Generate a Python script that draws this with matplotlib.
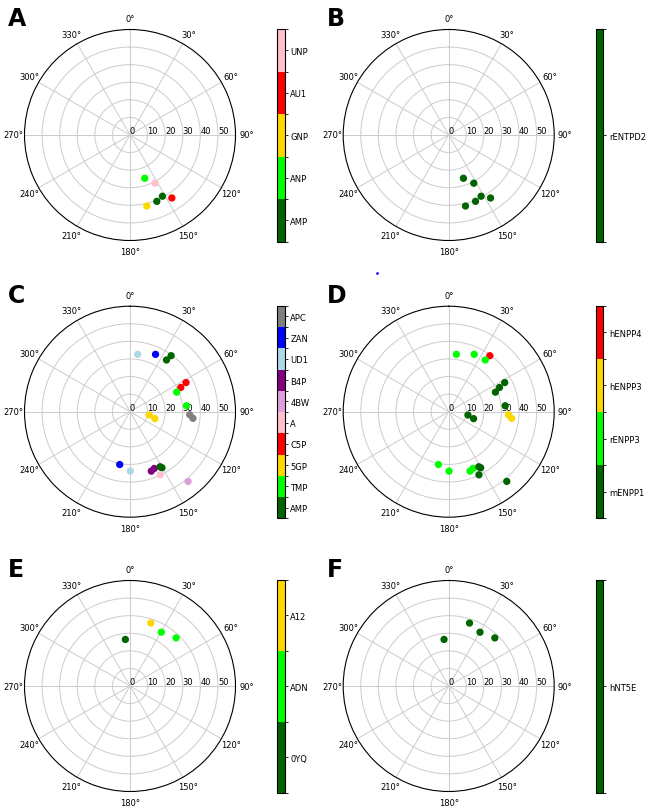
import numpy as np
import matplotlib
matplotlib.use("Agg")
import matplotlib.pyplot as plt
from matplotlib.colors import ListedColormap, BoundaryNorm
from matplotlib.cm import ScalarMappable
from matplotlib.lines import Line2D

# ---------------- data ----------------
# Panels A/B (angles in degrees, radius)
ab_theta = [161.2, 152.5, 152.1, 158.0, 146.4, 166.7]
ab_r = [26.0, 30.9, 39.4, 40.7, 43.0, 41.5]
a_labels = ["ANP", "UNP", "AMP", "AMP", "AU1", "GNP"]
a_cats = ["AMP", "ANP", "GNP", "AU1", "UNP"]
a_colors = ["darkgreen", "lime", "gold", "red", "pink"]
b_labels = ["rENTPD2"] * 6
b_cats = ["rENTPD2"]
b_colors = ["darkgreen"]

# Panels C/D
cd_theta = [7.6, 24.0, 36.3, 35.2, 62.5, 64.5, 67.3, 84.0, 92.9, 96.0,
            99.8, 105.6, 191.0, 179.7, 160.3, 156.9, 151.3, 150.3, 154.4, 140.2]
cd_r = [32.9, 35.7, 39.5, 36.0, 35.9, 32.0, 28.8, 32.3, 34.0, 36.0,
        11.1, 14.7, 30.6, 33.8, 35.9, 35.1, 35.7, 36.7, 39.8, 51.6]
c_labels = ["UD1", "ZAN", "AMP", "AMP", "C5P", "C5P", "TMP", "TMP", "APC", "APC",
            "5GP", "5GP", "ZAN", "UD1", "B4P", "B4P", "AMP", "AMP", "A", "4BW"]
c_cats = ["AMP", "TMP", "5GP", "C5P", "A", "4BW", "B4P", "UD1", "ZAN", "APC"]
c_colors = ["darkgreen", "lime", "gold", "red", "pink", "plum", "purple",
            "lightblue", "blue", "gray"]
d_labels = ["rENPP3", "rENPP3", "hENPP4", "rENPP3", "mENPP1", "mENPP1", "mENPP1",
            "mENPP1", "hENPP3", "hENPP3", "mENPP1", "mENPP1", "rENPP3", "rENPP3",
            "rENPP3", "rENPP3", "mENPP1", "mENPP1", "mENPP1", "mENPP1"]
d_cats = ["mENPP1", "rENPP3", "hENPP3", "hENPP4"]
d_colors = ["darkgreen", "lime", "gold", "red"]

# Panels E/F
ef_theta = [354.3, 18.3, 30.2, 43.8]
ef_r = [26.6, 37.7, 35.4, 37.9]
e_labels = ["0YQ", "A12", "ADN", "ADN"]
e_cats = ["0YQ", "ADN", "A12"]
e_colors = ["darkgreen", "lime", "gold"]
f_labels = ["hNT5E"] * 4
f_cats = ["hNT5E"]
f_colors = ["darkgreen"]

r_ticks = [0, 10, 20, 30, 40, 50]
r_max = 60

panels = [
    ("A", ab_theta, ab_r, a_labels, a_cats, a_colors, 130.0, 136.0),
    ("B", ab_theta, ab_r, b_labels, b_cats, b_colors, 448.7, 136.0),
    ("C", cd_theta, cd_r, c_labels, c_cats, c_colors, 130.0, 412.7),
    ("D", cd_theta, cd_r, d_labels, d_cats, d_colors, 448.7, 412.7),
    ("E", ef_theta, ef_r, e_labels, e_cats, e_colors, 130.0, 687.0),
    ("F", ef_theta, ef_r, f_labels, f_cats, f_colors, 448.7, 687.0),
]

W, H = 647, 812
fig = plt.figure(figsize=(W / 100, H / 100), dpi=100)

R = 105.5
for (letter, th, rr, labs, cats, cols, cx, cy) in panels:
    ax = fig.add_axes([(cx - R) / W, 1 - (cy + R) / H, 2 * R / W, 2 * R / H],
                      projection="polar")
    ax.set_theta_zero_location("N")
    ax.set_theta_direction(-1)
    ax.set_rlim(0, r_max)
    ax.set_rticks(r_ticks)
    ax.set_rlabel_position(90)
    ax.set_thetagrids(np.arange(0, 360, 30))
    ax.tick_params(axis="x", labelsize=6, pad=-2.6)
    ax.tick_params(axis="y", labelsize=6)
    ax.grid(color="#cccccc", linewidth=0.7)
    ax.spines["polar"].set_linewidth(0.8)
    colmap = dict(zip(cats, cols))
    ax.scatter(np.deg2rad(th), rr, c=[colmap[l] for l in labs], s=18, zorder=3)

    # colorbar
    n = len(cats)
    cmap = ListedColormap(cols)
    norm = BoundaryNorm(np.arange(n + 1), n)
    cb_x = cx + 147.3
    cax = fig.add_axes([cb_x / W, 1 - (cy + 106.7) / H, 7.4 / W, 212.7 / H])
    cb = fig.colorbar(ScalarMappable(norm=norm, cmap=cmap), cax=cax)
    cb.set_ticks(np.arange(n) + 0.5)
    cb.set_ticklabels(cats)
    cb.ax.tick_params(labelsize=6, length=2.5, width=0.6, pad=1.5)
    cb.outline.set_linewidth(0.8)

    fig.text((cx - 122) / W, 1 - (cy - 129) / H, letter, fontsize=17,
             fontweight="bold", ha="left", va="top")

# small stray point seen in the reference
fig.add_artist(Line2D([376.7 / W], [1 - 274.3 / H], marker="o", markersize=0.9,
                      color="blue", transform=fig.transFigure))

fig.savefig("out.png", dpi=100)
